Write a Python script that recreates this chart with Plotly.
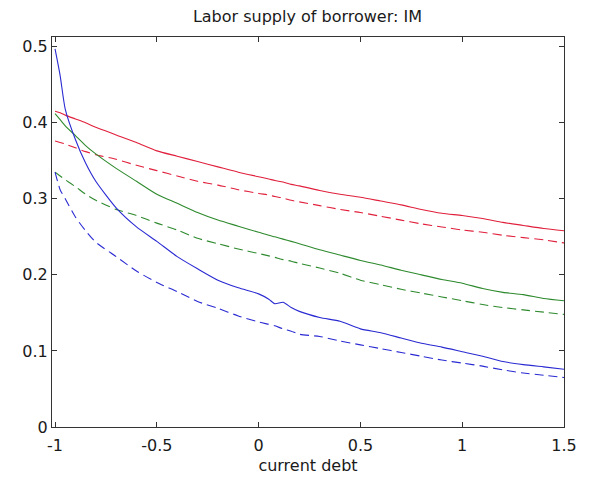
import plotly.graph_objects as go

# Grid of current debt values
debt = [-1, -0.975, -0.95, -0.9, -0.85, -0.8, -0.7, -0.6, -0.5, -0.4, -0.3, -0.2, -0.1,
        0, 0.05, 0.08, 0.12, 0.16, 0.2, 0.3, 0.4, 0.5, 0.6, 0.7, 0.8, 0.9, 1.0, 1.1,
        1.2, 1.3, 1.4, 1.5]

red_solid = [0.415, 0.413, 0.410, 0.405, 0.400, 0.394, 0.384, 0.374, 0.363, 0.356, 0.349,
             0.342, 0.335, 0.329, 0.326, 0.324, 0.322, 0.319, 0.317, 0.311, 0.306, 0.302,
             0.297, 0.292, 0.286, 0.281, 0.278, 0.274, 0.269, 0.265, 0.261, 0.258]
red_dash = [0.376, 0.374, 0.372, 0.367, 0.362, 0.358, 0.352, 0.344, 0.337, 0.330, 0.323,
            0.318, 0.312, 0.307, 0.305, 0.303, 0.301, 0.298, 0.296, 0.291, 0.286, 0.282,
            0.277, 0.272, 0.267, 0.263, 0.259, 0.256, 0.252, 0.249, 0.246, 0.242]
green_solid = [0.412, 0.404, 0.396, 0.383, 0.370, 0.359, 0.340, 0.323, 0.306, 0.294, 0.282,
               0.272, 0.264, 0.256, 0.252, 0.250, 0.247, 0.244, 0.241, 0.233, 0.226, 0.219,
               0.213, 0.206, 0.200, 0.194, 0.189, 0.182, 0.177, 0.174, 0.169, 0.166]
green_dash = [0.335, 0.330, 0.325, 0.316, 0.306, 0.298, 0.286, 0.278, 0.268, 0.259, 0.248,
              0.241, 0.234, 0.228, 0.225, 0.223, 0.220, 0.218, 0.215, 0.209, 0.202, 0.193,
              0.187, 0.181, 0.176, 0.171, 0.166, 0.161, 0.157, 0.154, 0.151, 0.148]
blue_solid = [0.497, 0.462, 0.418, 0.378, 0.347, 0.323, 0.288, 0.263, 0.244, 0.224, 0.208,
              0.193, 0.183, 0.175, 0.168, 0.162, 0.164, 0.157, 0.152, 0.144, 0.139, 0.129,
              0.124, 0.117, 0.110, 0.105, 0.099, 0.093, 0.086, 0.082, 0.079, 0.076]
blue_dash = [0.335, 0.312, 0.300, 0.276, 0.258, 0.243, 0.224, 0.205, 0.190, 0.178, 0.165,
             0.156, 0.146, 0.138, 0.135, 0.133, 0.129, 0.126, 0.122, 0.119, 0.113, 0.108,
             0.103, 0.098, 0.093, 0.088, 0.084, 0.080, 0.075, 0.071, 0.068, 0.065]

x_ticks = [-1, -0.5, 0, 0.5, 1, 1.5]
x_tick_text = ["-1", "-0.5", "0", "0.5", "1", "1.5"]
y_ticks = [0, 0.1, 0.2, 0.3, 0.4, 0.5]
y_tick_text = ["0", "0.1", "0.2", "0.3", "0.4", "0.5"]

RED = "#e0203c"
GREEN = "#2e8a2e"
BLUE = "#2a2ad2"
DASH = "9px,5px"

series = [
    (red_solid, RED, "solid"),
    (red_dash, RED, DASH),
    (green_solid, GREEN, "solid"),
    (green_dash, GREEN, DASH),
    (blue_solid, BLUE, "solid"),
    (blue_dash, BLUE, DASH),
]

fig = go.Figure()
for values, color, dash in series:
    fig.add_trace(go.Scatter(
        x=debt, y=values, mode="lines", line_shape="spline",
        line=dict(color=color, width=1.1, dash=dash, smoothing=0.6),
        showlegend=False, hoverinfo="skip",
    ))

font = dict(family="DejaVu Sans, Liberation Sans, sans-serif", size=16, color="#1a1a1a")

axis_common = dict(
    showgrid=False, zeroline=False, showline=True, linecolor="#333333", linewidth=1,
    mirror="ticks", ticks="inside", ticklen=5, tickcolor="#333333", tickwidth=1,
    tickfont=font,
)

fig.update_layout(
    width=589, height=487,
    margin=dict(l=52, r=22, t=37, b=60),
    paper_bgcolor="white", plot_bgcolor="white",
    title=dict(text="Labor supply of borrower: IM", x=0.522, xanchor="center",
               y=0.967, yanchor="middle", font=font),
    xaxis=dict(range=[-1.015, 1.5], tickvals=x_ticks, ticktext=x_tick_text,
               ticklabelstandoff=4,
               title=dict(text="current debt", font=font, standoff=5), **axis_common),
    yaxis=dict(range=[0, 0.5127], tickvals=y_ticks, ticktext=y_tick_text, **axis_common),
)

fig.write_html("out.html")
